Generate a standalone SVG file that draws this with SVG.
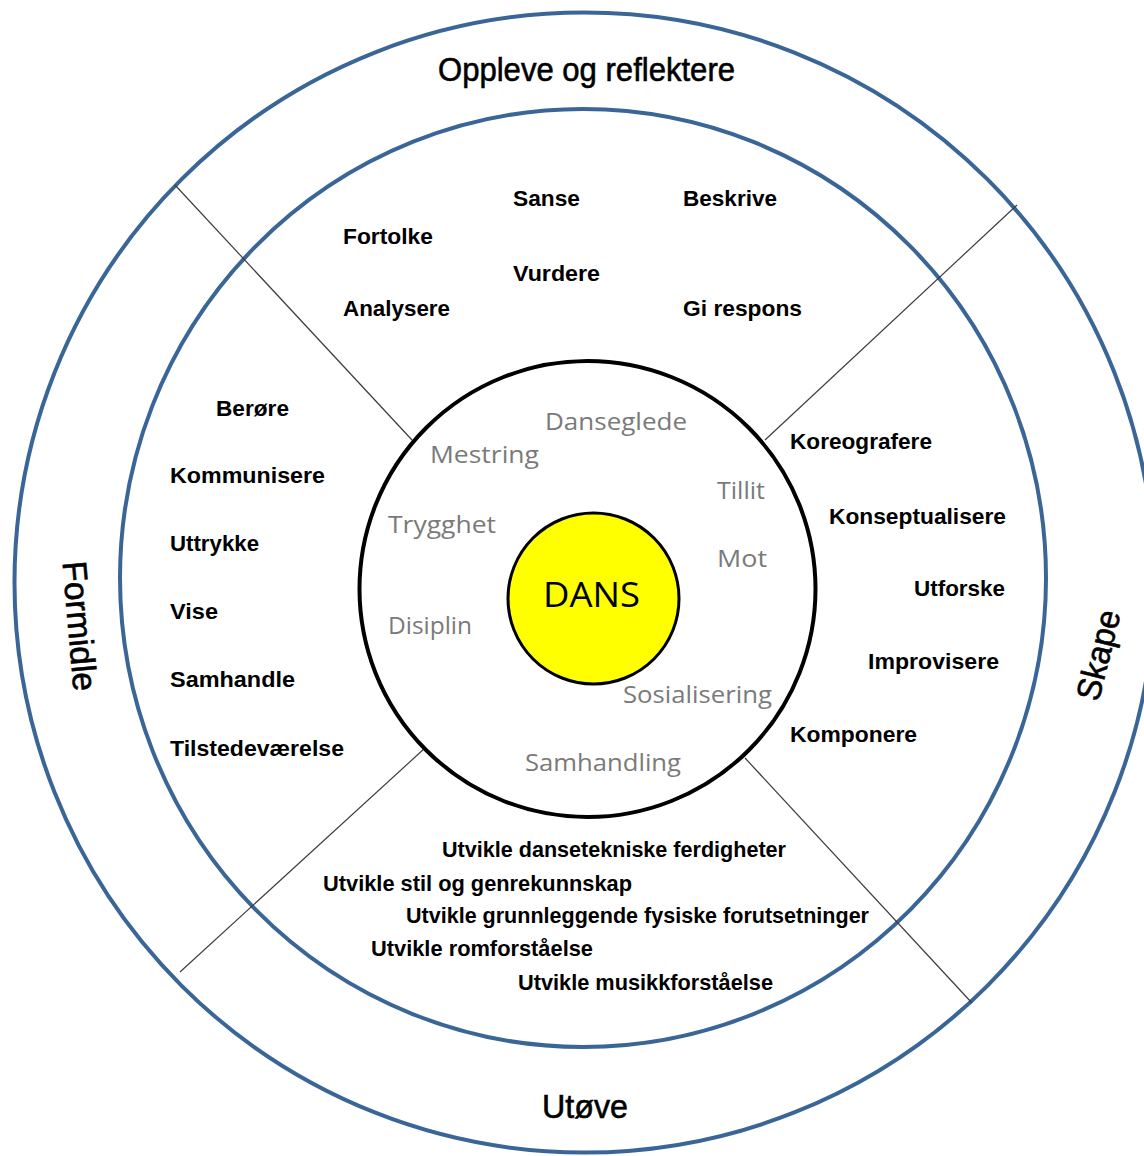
<svg xmlns="http://www.w3.org/2000/svg" width="1144" height="1156" viewBox="0 0 1144 1156">
<style>
.ring{fill:none;stroke:#3a6597;stroke-width:4}
.con{stroke:#3c3c3c;stroke-width:1.2;fill:none}
.head{font-family:"Liberation Sans",Arial,sans-serif;font-size:34px;fill:#000;stroke:#000;stroke-width:0.6}
.lbl{font-family:"Liberation Sans",Arial,sans-serif;font-size:22px;font-weight:bold;fill:#000}
.val{font-family:"Open Sans","Noto Sans",sans-serif;font-size:24px;fill:#7a7a7a}
.core{font-family:"Open Sans","Noto Sans",sans-serif;font-size:35px;fill:#000}
</style>
<rect width="1144" height="1156" fill="#fff"/>
<g id="outer-ring">
<circle class="ring" cx="584.5" cy="582.5" r="570"/>
</g>
<g id="middle-ring">
<ellipse class="ring" cx="583" cy="578" rx="463" ry="469"/>
</g>
<g id="connectors">
<line class="con" x1="175" y1="185" x2="412" y2="440"/>
<line class="con" x1="1017" y1="205" x2="765" y2="440"/>
<line class="con" x1="180" y1="972" x2="425" y2="748"/>
<line class="con" x1="972" y1="1003" x2="745" y2="758"/>
</g>
<g id="inner-ring">
<circle cx="587.5" cy="589" r="228" fill="#fff" stroke="#000" stroke-width="4"/>
</g>
<g id="dans">
<circle cx="593.5" cy="598.5" r="85.5" fill="#ffff00" stroke="#000" stroke-width="3"/>
<text class="core" x="543" y="607" textLength="97" lengthAdjust="spacingAndGlyphs">DANS</text>
</g>
<g id="oppleve-og-reflektere">
<text class="head" x="438" y="81" textLength="297" lengthAdjust="spacingAndGlyphs">Oppleve og reflektere</text>
<text class="lbl" x="513" y="206" textLength="67" lengthAdjust="spacingAndGlyphs">Sanse</text>
<text class="lbl" x="683" y="206" textLength="94" lengthAdjust="spacingAndGlyphs">Beskrive</text>
<text class="lbl" x="343" y="244" textLength="90" lengthAdjust="spacingAndGlyphs">Fortolke</text>
<text class="lbl" x="513" y="281" textLength="87" lengthAdjust="spacingAndGlyphs">Vurdere</text>
<text class="lbl" x="343" y="316" textLength="107" lengthAdjust="spacingAndGlyphs">Analysere</text>
<text class="lbl" x="683" y="316" textLength="119" lengthAdjust="spacingAndGlyphs">Gi respons</text>
</g>
<g id="formidle">
<text class="head" transform="translate(80,626) rotate(85)" x="0" y="12" text-anchor="middle" textLength="130" lengthAdjust="spacingAndGlyphs">Formidle</text>
<text class="lbl" x="216" y="416" textLength="73" lengthAdjust="spacingAndGlyphs">Berøre</text>
<text class="lbl" x="170" y="483" textLength="155" lengthAdjust="spacingAndGlyphs">Kommunisere</text>
<text class="lbl" x="170" y="551" textLength="89" lengthAdjust="spacingAndGlyphs">Uttrykke</text>
<text class="lbl" x="170" y="619" textLength="48" lengthAdjust="spacingAndGlyphs">Vise</text>
<text class="lbl" x="170" y="687" textLength="125" lengthAdjust="spacingAndGlyphs">Samhandle</text>
<text class="lbl" x="170" y="756" textLength="174" lengthAdjust="spacingAndGlyphs">Tilstedeværelse</text>
</g>
<g id="skape">
<text class="head" transform="translate(1098,655) rotate(-76)" x="0" y="12" text-anchor="middle" textLength="92" lengthAdjust="spacingAndGlyphs">Skape</text>
<text class="lbl" x="790" y="449" textLength="142" lengthAdjust="spacingAndGlyphs">Koreografere</text>
<text class="lbl" x="829" y="524" textLength="177" lengthAdjust="spacingAndGlyphs">Konseptualisere</text>
<text class="lbl" x="914" y="596" textLength="91" lengthAdjust="spacingAndGlyphs">Utforske</text>
<text class="lbl" x="868" y="669" textLength="131" lengthAdjust="spacingAndGlyphs">Improvisere</text>
<text class="lbl" x="790" y="742" textLength="127" lengthAdjust="spacingAndGlyphs">Komponere</text>
</g>
<g id="utove">
<text class="head" x="542" y="1118" textLength="86" lengthAdjust="spacingAndGlyphs">Utøve</text>
<text class="lbl" x="442" y="857" textLength="344" lengthAdjust="spacingAndGlyphs">Utvikle dansetekniske ferdigheter</text>
<text class="lbl" x="323" y="891" textLength="309" lengthAdjust="spacingAndGlyphs">Utvikle stil og genrekunnskap</text>
<text class="lbl" x="406" y="923" textLength="463" lengthAdjust="spacingAndGlyphs">Utvikle grunnleggende fysiske forutsetninger</text>
<text class="lbl" x="371" y="956" textLength="222" lengthAdjust="spacingAndGlyphs">Utvikle romforståelse</text>
<text class="lbl" x="518" y="990" textLength="255" lengthAdjust="spacingAndGlyphs">Utvikle musikkforståelse</text>
</g>
<g id="values">
<text class="val" x="545" y="430" textLength="142" lengthAdjust="spacingAndGlyphs">Danseglede</text>
<text class="val" x="430" y="463" textLength="109" lengthAdjust="spacingAndGlyphs">Mestring</text>
<text class="val" x="717" y="499" textLength="48" lengthAdjust="spacingAndGlyphs">Tillit</text>
<text class="val" x="388" y="533" textLength="108" lengthAdjust="spacingAndGlyphs">Trygghet</text>
<text class="val" x="717" y="567" textLength="50" lengthAdjust="spacingAndGlyphs">Mot</text>
<text class="val" x="388" y="634" textLength="84" lengthAdjust="spacingAndGlyphs">Disiplin</text>
<text class="val" x="623" y="703" textLength="149" lengthAdjust="spacingAndGlyphs">Sosialisering</text>
<text class="val" x="525" y="771" textLength="156" lengthAdjust="spacingAndGlyphs">Samhandling</text>
</g>
</svg>
